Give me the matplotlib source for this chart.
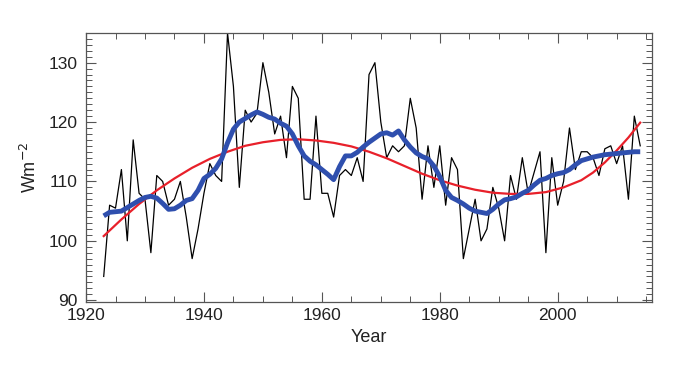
import numpy as np
import matplotlib.pyplot as plt
from matplotlib.ticker import MultipleLocator

# annual values (black)
years = np.arange(1923, 2015)
annual = [94, 106, 105.5, 112, 100, 117, 108, 107, 98, 111,
          110, 106, 107, 110, 104, 97, 102, 108, 113, 111,
          110, 135, 126, 109, 122, 120, 121.5, 130, 125, 118,
          121, 114, 126, 124, 107, 107, 121, 108, 108, 104,
          111, 112, 111, 114, 110, 128, 130, 120, 114, 116,
          115, 116, 124, 119, 107, 116, 109, 116, 106, 114,
          112, 97, 102, 107, 100, 102, 109, 105.5, 100, 111,
          107, 114, 108, 111.5, 115, 98, 114, 106, 110, 119,
          112, 115, 115, 114, 111, 115.5, 116, 113, 116, 107,
          121, 116]

# smoothed curve (blue)
smooth = [104.2, 104.8, 104.9, 105.0, 105.6, 106.2, 106.8, 107.3, 107.5, 107.2,
          106.3, 105.3, 105.4, 106.0, 106.8, 107.1, 108.5, 110.5, 111.2, 112.2,
          113.8, 116.5, 118.8, 120.0, 120.6, 121.2, 121.7, 121.3, 120.8, 120.5,
          119.8, 119.3, 118.0, 116.0, 114.3, 113.4, 112.8, 112.0, 111.2, 110.3,
          112.5, 114.3, 114.3, 114.9, 115.8, 116.6, 117.3, 118.0, 118.2, 117.8,
          118.5, 117.0, 115.8, 114.8, 114.2, 113.8, 112.6, 110.8, 108.5, 107.3,
          106.8, 106.2, 105.5, 105.0, 104.8, 104.6, 105.3, 106.2, 106.9, 107.1,
          107.4, 108.0, 108.5, 109.4, 110.2, 110.5, 111.0, 111.3, 111.5, 112.0,
          112.8, 113.5, 113.8, 114.1, 114.3, 114.5, 114.6, 114.7, 114.8, 114.9,
          115.0, 115.0]

# fitted curve (red)
fit_years = [1923, 1926, 1929, 1932, 1935, 1938, 1941, 1944, 1947, 1950,
             1953, 1956, 1959, 1962, 1965, 1968, 1971, 1974, 1977, 1980,
             1983, 1986, 1989, 1992, 1995, 1998, 2001, 2004, 2006, 2008,
             2010, 2012, 2014]
fit = [100.8, 103.6, 106.2, 108.5, 110.5, 112.3, 113.8, 115.0, 116.0, 116.6,
       117.0, 117.1, 116.9, 116.5, 115.9, 115.0, 113.9, 112.6, 111.3, 110.2,
       109.3, 108.6, 108.1, 107.9, 107.9, 108.2, 109.0, 110.2, 111.5, 113.2,
       115.2, 117.4, 119.9]

plt.rcParams['font.family'] = ['Liberation Sans', 'DejaVu Sans']

fig = plt.figure(figsize=(6.96, 3.77), dpi=100)
ax = fig.add_axes([0.1236, 0.199, 0.8132, 0.7135])

ax.plot(years, annual, color="black", lw=0.9, zorder=2)
ax.plot(fit_years, fit, color="#e8202a", lw=1.6, zorder=3)
ax.plot(years, smooth, color="#2f4fae", lw=3.5, zorder=4, solid_capstyle="butt")

ax.set_xlim(1920, 2016)
ax.set_ylim(89.7, 135)
ax.xaxis.set_major_locator(MultipleLocator(20))
ax.xaxis.set_minor_locator(MultipleLocator(5))
ax.yaxis.set_major_locator(MultipleLocator(10))
ax.yaxis.set_minor_locator(MultipleLocator(1))
ax.tick_params(which="both", direction="in", top=True, right=True,
               color="#555555", labelsize=12.5, labelcolor="#222222")
ax.tick_params(which="major", length=7, width=0.8)
ax.tick_params(which="minor", length=4, width=0.7)
ax.tick_params(axis="x", which="major", pad=4)
ax.tick_params(axis="y", which="major", pad=6)
for s in ax.spines.values():
    s.set_color("#555555")
    s.set_linewidth(0.9)

ax.set_xlabel("Year", fontsize=13, color="#222222", labelpad=5)
ax.set_ylabel("Wm$^{-2}$", fontsize=13, color="#222222", labelpad=6)

fig.savefig("out.png", dpi=100)
